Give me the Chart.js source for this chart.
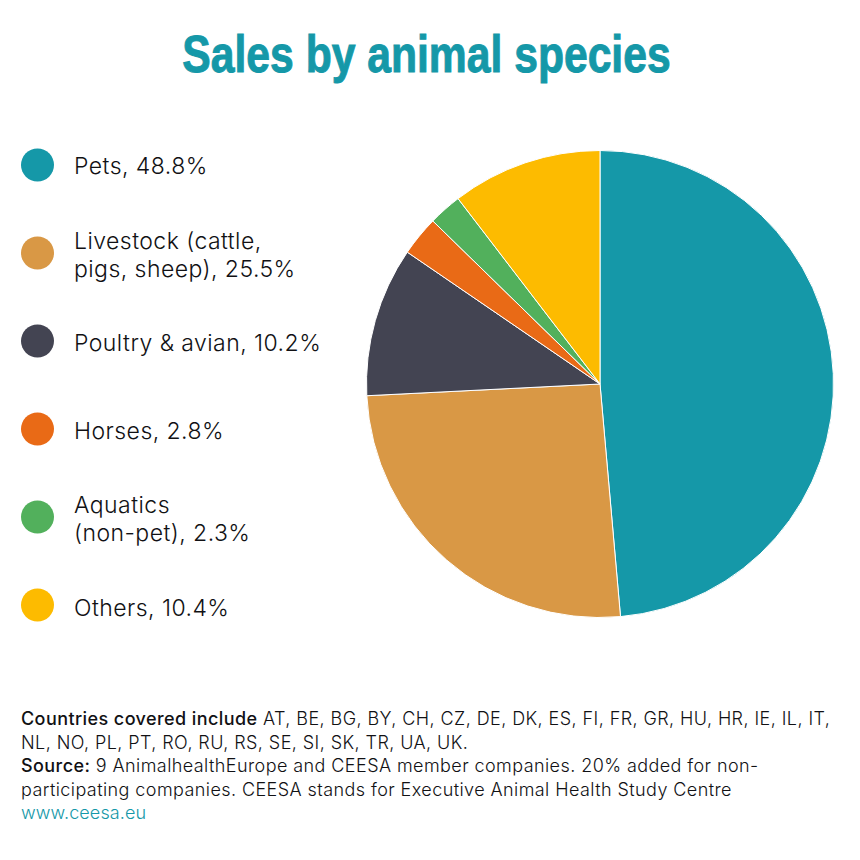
<!DOCTYPE html>
<html><head><meta charset="utf-8">
<script src="https://cdn.jsdelivr.net/npm/chart.js@4"></script>
<style>
html,body{margin:0;padding:0;background:#fff;}
#wrap{position:relative;width:860px;height:860px;overflow:hidden;font-family:"Inter",sans-serif;color:#111114;}
#title{position:absolute;left:0;top:22px;width:853px;text-align:center;font-family:"Liberation Sans",sans-serif;font-weight:700;font-size:52px;line-height:64px;color:#1598a8;transform:scaleX(0.82);-webkit-text-stroke:1px #1598a8;}
#chartBox{position:absolute;left:340px;top:124px;width:520px;height:520px;}
.li{position:absolute;left:74px;font-size:23px;font-weight:300;letter-spacing:.45px;line-height:28px;white-space:pre;transform:translateY(-50%);}
.dot{position:absolute;left:21px;width:33px;height:33px;border-radius:50%;transform:translateY(-50%);}
#foot{position:absolute;left:21px;top:707px;width:835px;font-size:18px;font-weight:300;letter-spacing:.42px;line-height:23.5px;white-space:pre;}
#foot b{font-weight:500;}
#foot a{color:#1598a8;text-decoration:none;letter-spacing:.1px;}
</style></head><body>
<div id="wrap">
<div id="title">Sales by animal species</div>
<div id="legend"></div>
<div id="chartBox"><canvas id="c" width="520" height="520"></canvas></div>
<div id="foot"><b>Countries covered include</b> AT, BE, BG, BY, CH, CZ, DE, DK, ES, FI, FR, GR, HU, HR, IE, IL, IT,
NL, NO, PL, PT, RO, RU, RS, SE, SI, SK, TR, UA, UK.
<b>Source:</b> 9 AnimalhealthEurope and CEESA member companies. 20% added for non-
participating companies. CEESA stands for Executive Animal Health Study Centre
<a>www.ceesa.eu</a></div>
</div>
<script>
const categories = ["Pets","Livestock (cattle,\npigs, sheep)","Poultry & avian","Horses","Aquatics\n(non-pet)","Others"];
const labelShares = ["48.8","25.5","10.2","2.8","2.3","10.4"];
const sliceValues = [48.6,25.6,10.35,2.75,2.3,10.4];
const colors = ["#1598a8","#d99845","#434452","#e96a16","#52b05c","#fdbb00"];
const dotY = [165,253,341,429,517,605];
const textY = [166,255,343,431,519,608];

const legend=document.getElementById('legend');
categories.forEach((c,i)=>{
  const d=document.createElement('div');d.className='dot';d.style.top=dotY[i]+'px';d.style.background=colors[i];legend.appendChild(d);
  const t=document.createElement('div');t.className='li';t.style.top=textY[i]+'px';t.textContent=c+', '+labelShares[i]+'%';legend.appendChild(t);
});
new Chart(document.getElementById('c'),{
  type:'pie',
  data:{labels:categories,datasets:[{data:sliceValues,backgroundColor:colors,borderColor:'#ffffff',borderWidth:1}]},
  options:{responsive:false,animation:false,devicePixelRatio:1,
    layout:{padding:{left:26,right:26,top:26,bottom:26}},
    plugins:{legend:{display:false},tooltip:{enabled:false}}}
});
</script>
</body></html>
